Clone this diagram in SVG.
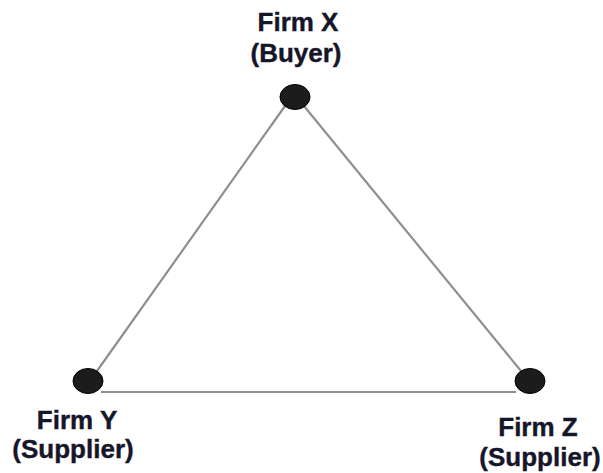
<svg xmlns="http://www.w3.org/2000/svg" width="603" height="473" viewBox="0 0 603 473">
  <style>
    .lbl { font-family: "Liberation Sans", Arial, sans-serif; font-weight: bold; font-size: 26px; fill: #16162a; stroke: #16162a; stroke-width: 0.4; text-anchor: middle; }
    .edge { stroke: #8f8f8f; stroke-width: 2.2; fill: none; }
    .dot { fill: #1c1c1c; stroke: #000; stroke-width: 1; }
  </style>
  <rect width="603" height="473" fill="#ffffff"/>
  <g id="connectors">
    <line class="edge" x1="285" y1="106" x2="97" y2="371"/>
    <line class="edge" x1="304" y1="106" x2="521" y2="371"/>
    <line class="edge" x1="101" y1="392" x2="516" y2="392"/>
  </g>
  <g id="firm-x">
    <ellipse class="dot" cx="295" cy="97" rx="15" ry="12.5"/>
    <text class="lbl" x="298" y="31">Firm X</text>
    <text class="lbl" x="296" y="62">(Buyer)</text>
  </g>
  <g id="firm-y">
    <ellipse class="dot" cx="88" cy="381" rx="15" ry="12.5"/>
    <text class="lbl" x="77" y="429">Firm Y</text>
    <text class="lbl" x="73" y="458">(Supplier)</text>
  </g>
  <g id="firm-z">
    <ellipse class="dot" cx="530" cy="381" rx="15" ry="12.5"/>
    <text class="lbl" x="538" y="436">Firm Z</text>
    <text class="lbl" x="540" y="466">(Supplier)</text>
  </g>
</svg>
